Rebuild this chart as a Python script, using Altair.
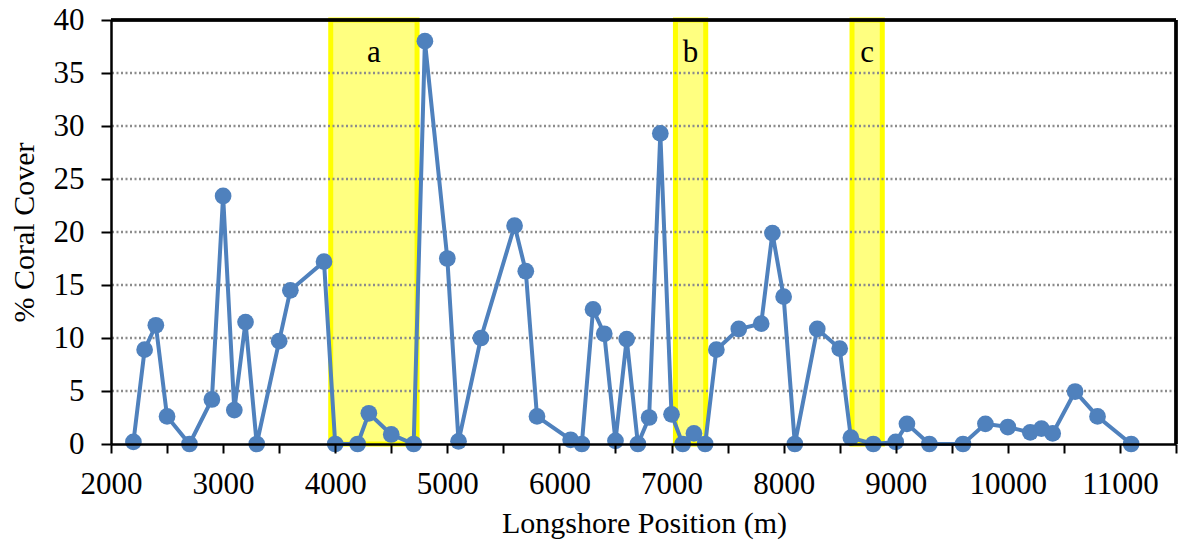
import altair as alt
import pandas as pd

# Survey transects: longshore position (m) and percent coral cover
position = [2200, 2300, 2400, 2500, 2700, 2900, 3000, 3100, 3200, 3300,
            3500, 3600, 3900, 4000, 4200, 4300, 4500, 4700, 4800, 5000,
            5100, 5300, 5600, 5700, 5800, 6100, 6200, 6300, 6400, 6500,
            6600, 6700, 6800, 6900, 7000, 7100, 7200, 7300, 7400, 7600,
            7800, 7900, 8000, 8100, 8300, 8500, 8600, 8800, 9000, 9100,
            9300, 9600, 9800, 10000, 10200, 10300, 10400, 10600, 10800, 11100]
cover = [0.2, 8.9, 11.2, 2.6, 0, 4.2, 23.4, 3.2, 11.5, 0,
         9.7, 14.5, 17.2, 0, 0, 2.9, 0.9, 0, 38.0, 17.5,
         0.25, 10.0, 20.6, 16.3, 2.6, 0.4, 0, 12.7, 10.4, 0.3,
         9.9, 0, 2.5, 29.3, 2.8, 0, 1.0, 0, 8.9, 10.85,
         11.35, 19.9, 13.9, 0, 10.85, 9.0, 0.6, 0, 0.2, 1.9,
         0, 0, 1.9, 1.6, 1.1, 1.45, 1.0, 4.95, 2.6, 0]

# Highlighted zones
zone_label = ["a", "b", "c"]
zone_start = [3960, 7035, 8610]
zone_end = [4730, 7305, 8880]

grid_values = [5, 10, 15, 20, 25, 30, 35]
x_ticks = list(range(2000, 11501, 500))
y_ticks = list(range(0, 41, 5))

FONT = "Liberation Serif"
BLUE = "#4F81BD"

df = pd.DataFrame({"pos": position, "cover": cover})
zones = pd.DataFrame({"label": zone_label, "x0": zone_start, "x1": zone_end,
                      "mid": [(a + b) / 2 for a, b in zip(zone_start, zone_end)]})
grid = pd.DataFrame({"g": grid_values})

x_scale = alt.Scale(domain=[2000, 11500], nice=False, zero=False)
y_scale = alt.Scale(domain=[0, 40], nice=False)

x_axis = alt.Axis(
    values=x_ticks, format="d", grid=False,
    labelExpr="datum.value % 1000 == 0 ? datum.label : ''",
    labelFlush=False, labelOverlap=False,
    labelFont=FONT, labelFontSize=31, labelColor="black", labelPadding=16,
    tickSize=9, tickWidth=2, tickColor="black",
    domainColor="black", domainWidth=2.5,
    title="Longshore Position (m)", titleFont=FONT, titleFontSize=30,
    titleFontWeight="normal", titleColor="black",
    titleBaseline="alphabetic", titleX=533, titleY=88, titleAlign="center",
    zindex=1,
)
y_axis = alt.Axis(
    values=y_ticks, grid=False,
    labelFlush=False, labelOverlap=False,
    labelFont=FONT, labelFontSize=31, labelColor="black", labelPadding=17,
    tickSize=10, tickWidth=2, tickColor="black",
    domainColor="black", domainWidth=2.5,
    title="% Coral Cover", titleFont=FONT, titleFontSize=30,
    titleFontWeight="normal", titleColor="black",
    titleAngle=270, titleBaseline="alphabetic", titleAlign="center",
    titleX=-78, titleY=212,
    zindex=1,
)

bands = alt.Chart(zones).mark_rect(
    fill="#FFFF80", stroke="#FFFF00", strokeWidth=5
).encode(
    x=alt.X("x0:Q", scale=x_scale, axis=x_axis),
    x2="x1:Q",
    y=alt.datum(0, scale=y_scale, axis=y_axis),
    y2=alt.datum(40),
)

gridlines = alt.Chart(grid).mark_rule(
    color="#8C8C8C", strokeDash=[2, 2.5], strokeWidth=2.5
).encode(y=alt.Y("g:Q", scale=y_scale))

zone_text = alt.Chart(zones).mark_text(
    font=FONT, fontSize=31, color="black", baseline="alphabetic", align="center"
).encode(
    x=alt.X("mid:Q", scale=x_scale),
    y=alt.datum(36),
    text="label:N",
)

frame_top = alt.Chart(grid).mark_rule(color="black", strokeWidth=2.5).encode(
    y=alt.datum(40, scale=y_scale)
)
frame_right = alt.Chart(grid).mark_rule(color="black", strokeWidth=2.5).encode(
    x=alt.datum(11500, scale=x_scale)
)

line = alt.Chart(df).mark_line(
    color=BLUE, strokeWidth=4,
    point=alt.OverlayMarkDef(filled=True, color=BLUE, size=280, opacity=1),
).encode(
    x=alt.X("pos:Q", scale=x_scale),
    y=alt.Y("cover:Q", scale=y_scale),
)

chart = alt.layer(
    bands, gridlines, zone_text, frame_top, frame_right, line
).properties(
    width=1065, height=424,
    autosize=alt.AutoSizeParams(type="none"),
    padding={"left": 111, "top": 20, "right": 3, "bottom": 100},
).configure_view(stroke=None).configure(background="white")

chart.save("out.html", embed_options={"renderer": "svg", "actions": False})
